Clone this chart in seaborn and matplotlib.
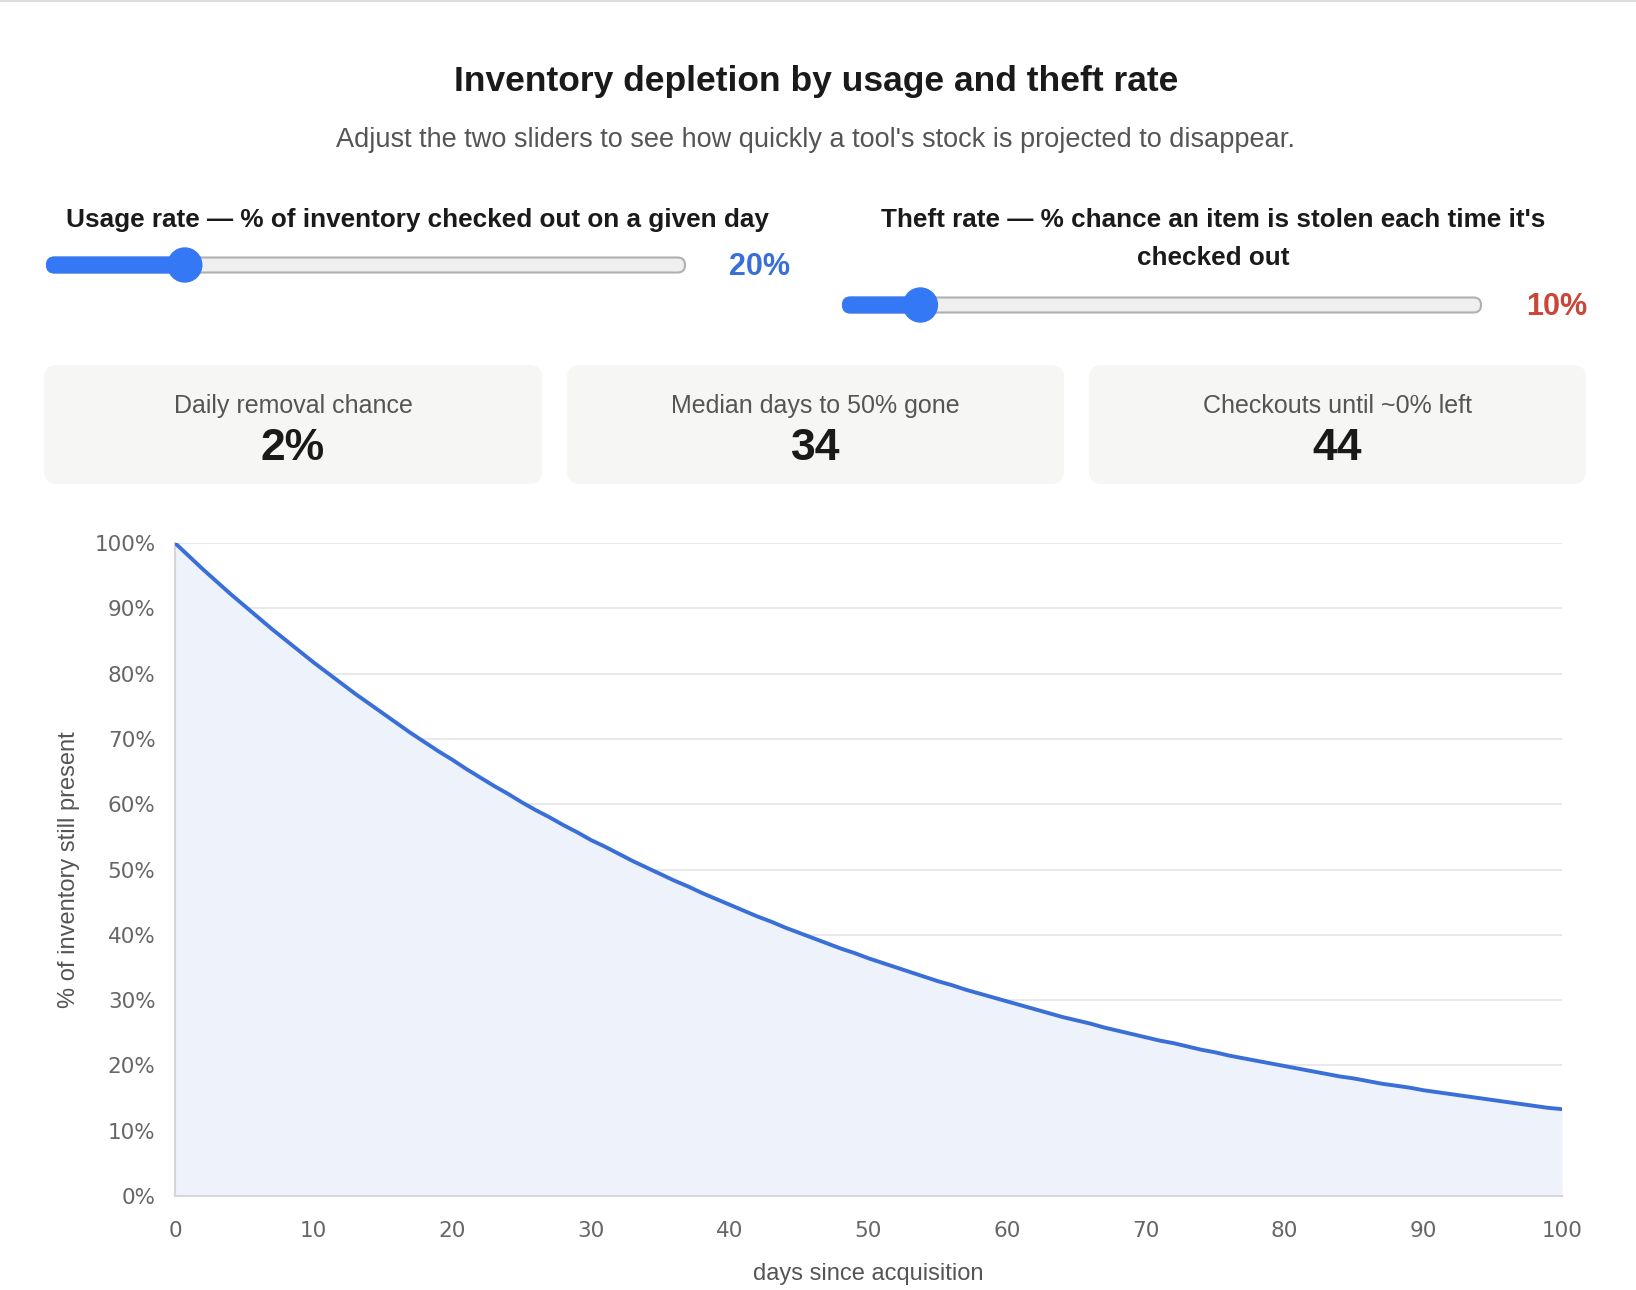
import matplotlib
matplotlib.use("Agg")
import matplotlib.pyplot as plt
import seaborn as sns
import pandas as pd
from matplotlib.patches import FancyBboxPatch, Ellipse
from matplotlib.ticker import FuncFormatter

# ---- data ----
title = "Inventory depletion by usage and theft rate"
subtitle = "Adjust the two sliders to see how quickly a tool's stock is projected to disappear."
usage_label = "Usage rate — % of inventory checked out on a given day"
theft_label = "Theft rate — % chance an item is stolen each time it's\nchecked out"
usage_rate = 20
theft_rate = 10
card_labels = ["Daily removal chance", "Median days to 50% gone", "Checkouts until ~0% left"]
card_values = ["2%", "34", "44"]
days = list(range(0, 101))
remaining = [100.0, 98.0, 96.0, 94.1, 92.2, 90.4, 88.6, 86.8, 85.1, 83.4,
             81.7, 80.1, 78.5, 76.9, 75.4, 73.9, 72.4, 70.9, 69.5, 68.1,
             66.8, 65.4, 64.1, 62.8, 61.6, 60.3, 59.1, 58.0, 56.8, 55.7,
             54.5, 53.5, 52.4, 51.3, 50.3, 49.3, 48.3, 47.4, 46.4, 45.5,
             44.6, 43.7, 42.8, 42.0, 41.1, 40.3, 39.5, 38.7, 37.9, 37.2,
             36.4, 35.7, 35.0, 34.3, 33.6, 32.9, 32.3, 31.6, 31.0, 30.4,
             29.8, 29.2, 28.6, 28.0, 27.4, 26.9, 26.4, 25.8, 25.3, 24.8,
             24.3, 23.8, 23.4, 22.9, 22.4, 22.0, 21.5, 21.1, 20.7, 20.3,
             19.9, 19.5, 19.1, 18.7, 18.3, 18.0, 17.6, 17.2, 16.9, 16.6,
             16.2, 15.9, 15.6, 15.3, 15.0, 14.7, 14.4, 14.1, 13.8, 13.5,
             13.3]
x_ticks = [0, 10, 20, 30, 40, 50, 60, 70, 80, 90, 100]
y_ticks = [0, 10, 20, 30, 40, 50, 60, 70, 80, 90, 100]
x_label = "days since acquisition"
y_label = "% of inventory still present"

df = pd.DataFrame({"day": days, "remaining": remaining})

sns.set_theme(style="white")
plt.rcParams["font.family"] = ["Liberation Sans", "DejaVu Sans"]

W, H = 1636, 1290
fig = plt.figure(figsize=(W / 100, H / 100), dpi=100)
fig.patch.set_facecolor("white")

def fx(px):
    return px / W

def fy(py):
    return 1 - py / H

BLUE = "#3a6fd8"
SLIDER = "#3478f6"
RED = "#c9473a"

# top border
fig.add_artist(plt.Line2D([0, 1], [fy(1), fy(1)], color="#dddddd", lw=1.5, transform=fig.transFigure))

fig.text(fx(816), fy(82), title, ha="center", va="center", fontsize=25.5, fontweight="bold", color="#1a1a1a")
fig.text(fx(816), fy(140), subtitle, ha="center", va="center", fontsize=19.5, color="#555555")

fig.text(fx(417), fy(220), usage_label, ha="center", va="center", fontsize=18.8, fontweight="bold", color="#1a1a1a")
fig.text(fx(1213), fy(239), theft_label, ha="center", va="center", fontsize=18.8, fontweight="bold",
         color="#1a1a1a", linespacing=1.75)


def slider(x0, x1, yc, value, vmax, val_text, val_color, val_x):
    h = 15
    r = 17
    track = FancyBboxPatch((fx(x0), fy(yc + h / 2)), fx(x1 - x0), h / H,
                           boxstyle="round,pad=0,rounding_size=0.0045",
                           transform=fig.transFigure, facecolor="#efefef",
                           edgecolor="#b0b0b0", lw=1.5, mutation_aspect=W / H)
    fig.add_artist(track)
    tx = x0 + r + (x1 - x0 - 2 * r) * value / vmax
    fill = FancyBboxPatch((fx(x0), fy(yc + h / 2)), fx(tx - x0), h / H,
                          boxstyle="round,pad=0,rounding_size=0.0045",
                          transform=fig.transFigure, facecolor=SLIDER,
                          edgecolor=SLIDER, lw=1.5, mutation_aspect=W / H)
    fig.add_artist(fill)
    thumb = Ellipse((fx(tx), fy(yc)), 2 * r / W, 2 * r / H, transform=fig.transFigure,
                    facecolor=SLIDER, edgecolor=SLIDER)
    fig.add_artist(thumb)
    fig.text(fx(val_x), fy(yc + 2), val_text, ha="center", va="center", fontsize=22,
             fontweight="bold", color=val_color)

slider(47, 685, 265, usage_rate, 100, f"{usage_rate}%", BLUE, 760)
slider(843, 1481, 305, theft_rate, 100, f"{theft_rate}%", RED, 1557)

cards_x = [(44, 542), (567, 1064), (1089, 1586)]
for (cx0, cx1), lab, val in zip(cards_x, card_labels, card_values):
    card = FancyBboxPatch((fx(cx0), fy(484)), fx(cx1 - cx0), (484 - 365) / H,
                          boxstyle="round,pad=0,rounding_size=0.008",
                          transform=fig.transFigure, facecolor="#f6f6f4",
                          edgecolor="none", mutation_aspect=W / H)
    fig.add_artist(card)
    cxm = (cx0 + cx1) / 2
    fig.text(fx(cxm), fy(406), lab, ha="center", va="center", fontsize=18, color="#555555")
    fig.text(fx(cxm), fy(448), val, ha="center", va="center", fontsize=32, fontweight="bold", color="#1a1a1a")

# ---- chart ----
ax = fig.add_axes([fx(175), fy(1196), fx(1562 - 175), (1196 - 543) / H])
ax.set_facecolor("white")
ax.fill_between(df["day"], df["remaining"], 0, color="#eef3fb", zorder=1, lw=0)
sns.lineplot(data=df, x="day", y="remaining", ax=ax, color=BLUE, lw=2.8, zorder=3)
ax.set_xlim(0, 100)
ax.set_ylim(0, 100)
ax.set_xticks(x_ticks)
ax.set_yticks(y_ticks)
ax.yaxis.set_major_formatter(FuncFormatter(lambda v, p: f"{int(v)}%"))
ax.grid(axis="y", color="#e5e5e5", lw=1.2, zorder=0)
ax.grid(axis="x", visible=False)
ax.set_axisbelow(True)
for s in ["top", "right"]:
    ax.spines[s].set_visible(False)
for s in ["left", "bottom"]:
    ax.spines[s].set_color("#d6d6d6")
    ax.spines[s].set_linewidth(1.5)
ax.tick_params(axis="both", length=0, colors="#666666", labelsize=15.5,
               labelfontfamily="DejaVu Sans")
ax.tick_params(axis="y", pad=14)
ax.tick_params(axis="x", pad=18)
ax.set_xlabel(x_label, fontsize=17, color="#555555", labelpad=16)
ax.set_ylabel(y_label, fontsize=17, color="#555555", labelpad=10)

fig.savefig("out.png", dpi=100, facecolor="white")
